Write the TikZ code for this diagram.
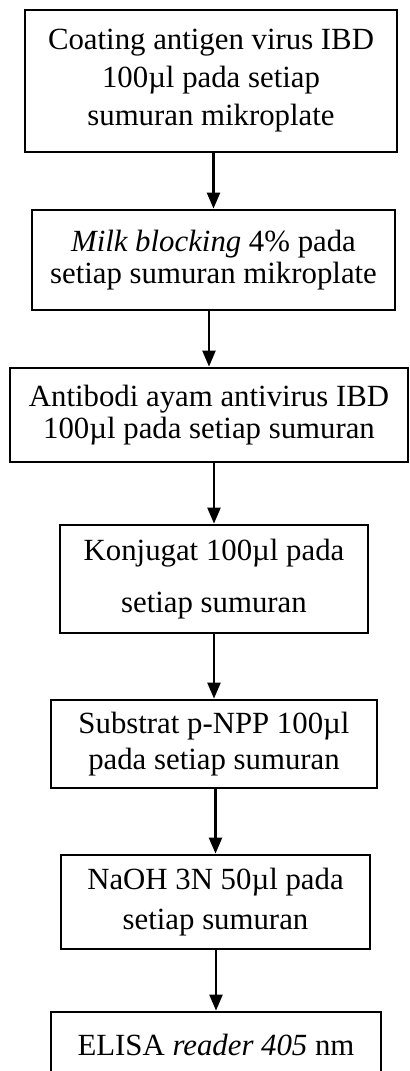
\documentclass[tikz,border=0pt]{standalone}
\usepackage{fontspec}
\setmainfont{Liberation Serif}
\usetikzlibrary{arrows.meta}

\begin{document}
\begin{tikzpicture}[
        %We set the units and define some styles
        x=0.5pt, y=-0.5pt,
        stage/.style={draw, line width=1.4pt, inner sep=0pt, align=center,
            font=\fontsize{15.4}{19}\selectfont},
        flow/.style={line width=1.2pt, -{Triangle[width=6.5pt,length=8pt]}}
     ]
    % The frame of the page, the last box runs off its lower edge
    \clip (0,0) rectangle (409,1071);
    % The steps of the test
    \node[stage, minimum width=186pt, minimum height=71pt] (coat) at (211,81)
        {Coating antigen virus IBD\\100µl pada setiap\\sumuran mikroplate};
    \node[stage, minimum width=181.5pt, minimum height=50pt] (block) at (213.5,260)
        {\textit{Milk blocking} 4\% pada\\[-3pt]setiap sumuran mikroplate};
    \node[stage, minimum width=199pt, minimum height=47pt] (antibodi) at (209,415)
        {Antibodi ayam antivirus IBD\\[-3pt]100µl pada setiap sumuran};
    \node[stage, minimum width=154pt, minimum height=54pt] (konjugat) at (214,579)
        {Konjugat 100µl pada\\[7pt]setiap sumuran};
    \node[stage, minimum width=163pt, minimum height=44pt] (substrat) at (214,744)
        {Substrat p-NPP 100µl\\[-1pt]pada setiap sumuran};
    \node[stage, minimum width=154.5pt, minimum height=47pt] (naoh) at (215.5,902)
        {NaOH 3N 50µl pada\\[1pt]setiap sumuran};
    \node[stage, minimum width=165pt, minimum height=33pt] (reader) at (216,1045)
        {ELISA \textit{reader 405} nm};
    % Arrows between the steps
    \draw[flow] (coat.south -| block.north) -- (block.north);
    \draw[flow] (block.south -| antibodi.north) -- (antibodi.north);
    \draw[flow] (antibodi.south -| konjugat.north) -- (konjugat.north);
    \draw[flow] (konjugat.south -| substrat.north) -- (substrat.north);
    \draw[flow] (substrat.south -| naoh.north) -- (naoh.north);
    \draw[flow] (naoh.south -| reader.north) -- (reader.north);
\end{tikzpicture}
\end{document}
